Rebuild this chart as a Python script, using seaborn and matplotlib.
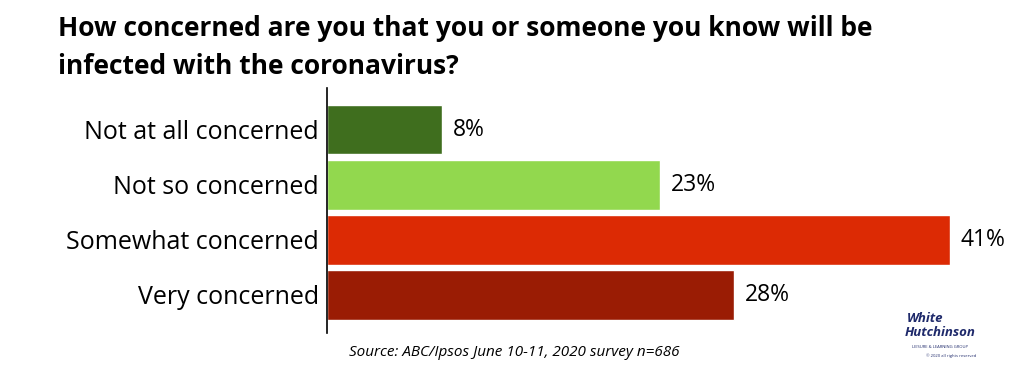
import matplotlib
matplotlib.use('Agg')
import matplotlib.pyplot as plt
import seaborn as sns
import pandas as pd

sns.set_style('white')
plt.rcParams['font.family'] = ['Open Sans', 'DejaVu Sans']
plt.rcParams['text.color'] = 'black'

categories = ['Not at all concerned', 'Not so concerned', 'Somewhat concerned', 'Very concerned']
# bar lengths as drawn in the picture; printed labels are rounded text
values = [7.6, 21.9, 41.0, 26.8]
labels = ['8%', '23%', '41%', '28%']
colors = ['#3f6e1e', '#92d84e', '#dc2a04', '#9a1c04']

df = pd.DataFrame({'category': categories, 'value': values})

fig = plt.figure(figsize=(10.24, 3.66), dpi=100)
ax = fig.add_axes([327 / 1024, 33 / 366, 623 / 1024, 245 / 366])

sns.barplot(data=df, x='value', y='category', hue='category', order=categories,
            palette=dict(zip(categories, colors)), saturation=1, width=0.9,
            legend=False, ax=ax)

ax.set_xlim(0, 41)
ax.set_ylim(3.69, -0.755)
ax.set_xlabel('')
ax.set_ylabel('')
ax.set_xticks([])
ax.tick_params(axis='y', length=0, pad=6, labelsize=18, labelcolor='black')
for side in ['top', 'right', 'bottom']:
    ax.spines[side].set_visible(False)
ax.spines['left'].set_color('black')
ax.spines['left'].set_linewidth(1.2)

for i, (v, lab) in enumerate(zip(values, labels)):
    ax.text(v + 0.7, i, lab, va='center', ha='left', fontsize=16.5, color='black', clip_on=False)

fig.text(58 / 1024, 1 - 29 / 366, 'How concerned are you that you or someone you know will be',
         fontsize=19, fontweight='bold', ha='left', va='center')
fig.text(58 / 1024, 1 - 67 / 366, 'infected with the coronavirus?',
         fontsize=19, fontweight='bold', ha='left', va='center')

fig.text(514 / 1024, 1 - 352 / 366, 'Source: ABC/Ipsos June 10-11, 2020 survey n=686',
         fontsize=11, style='italic', ha='center', va='center')

# logo text
fig.text(907 / 1024, 1 - 319 / 366, 'White', fontsize=9.5, fontweight='bold',
         style='italic', color='#1f2a6b', ha='left', va='center')
fig.text(905 / 1024, 1 - 332 / 366, 'Hutchinson', fontsize=9.5, fontweight='bold',
         style='italic', color='#1f2a6b', ha='left', va='center')
fig.text(940 / 1024, 1 - 347 / 366, 'LEISURE & LEARNING GROUP', fontsize=3, color='#1f2a6b',
         ha='center', va='center')
fig.text(951 / 1024, 1 - 356 / 366, '© 2020 all rights reserved', fontsize=3, color='#1f2a6b',
         ha='center', va='center')

fig.savefig('out.png', dpi=100)
